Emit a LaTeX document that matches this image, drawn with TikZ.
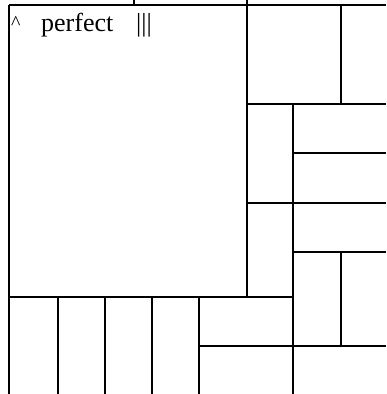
\documentclass[tikz,border=0pt]{standalone}
\usepackage{fontspec}
\setmainfont{Liberation Serif}
\tikzset{
  wall/.style={line width=2pt, black},
  lbl/.style={inner sep=0pt, anchor=base west, font=\fontsize{26}{30}\selectfont}
}
\begin{document}
\begin{tikzpicture}[x=1pt,y=-1pt]
\useasboundingbox (0,0) rectangle (386,394);
\clip (0,0) rectangle (386,394);
% outer and top
\draw[wall] (9,5) -- (386,5);
\draw[wall] (134,0) -- (134,5);
\draw[wall] (247,0) -- (247,5);
\draw[wall] (9,5) -- (9,394);
% big square
\draw[wall] (247,5) -- (247,297);
\draw[wall] (9,297) -- (293,297);
% right column
\draw[wall] (341,5) -- (341,104);
\draw[wall] (247,104) -- (386,104);
\draw[wall] (293,104) -- (293,394);
\draw[wall] (293,153) -- (386,153);
\draw[wall] (247,203) -- (386,203);
\draw[wall] (293,252) -- (386,252);
\draw[wall] (341,252) -- (341,346);
\draw[wall] (199,346) -- (386,346);
% bottom strips
\draw[wall] (58,297) -- (58,394);
\draw[wall] (105,297) -- (105,394);
\draw[wall] (152,297) -- (152,394);
\draw[wall] (199,297) -- (199,394);
% texts
\node[lbl, font=\fontsize{20}{24}\selectfont] (caret) at (11,29) {\textasciicircum};
\node[lbl] (word) at (41,31) {perfect};
\node[lbl] (bars) at (136,31) {|||};
\end{tikzpicture}
\end{document}
